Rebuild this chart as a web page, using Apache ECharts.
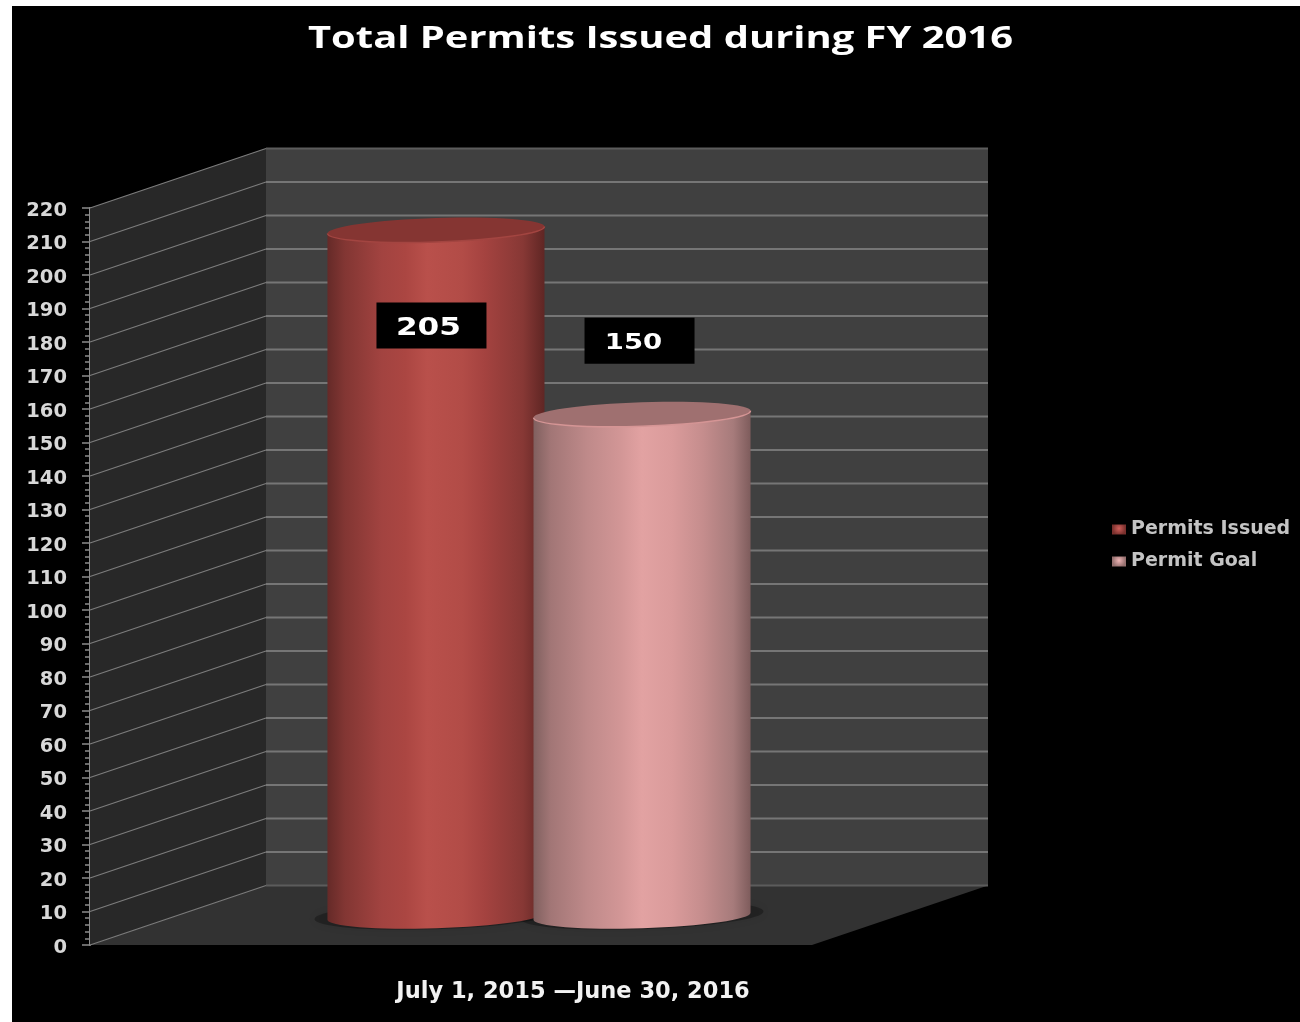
<!DOCTYPE html>
<html>
<head>
<meta charset="utf-8">
<title>Total Permits Issued during FY 2016</title>
<script src="https://cdn.jsdelivr.net/npm/echarts@6/dist/echarts.min.js"></script>
<style>
  html, body { margin: 0; padding: 0; background: #fff; }
  #chart { width: 1300px; height: 1022px; }
</style>
</head>
<body>
<div id="chart"></div>
<script>
// Chart values
var chartTitle = 'Total Permits Issued during FY 2016';
var categories = ['July 1, 2015 \u2014June 30, 2016'];
var seriesNames = ['Permits Issued', 'Permit Goal'];
var permitsIssued = [205];
var permitGoal = [150];
var gridTicks = [0, 10, 20, 30, 40, 50, 60, 70, 80, 90, 100, 110, 120, 130, 140, 150, 160, 170, 180, 190, 200, 210, 220];

// Oblique depth of the plot box, in pixels
var DEPTH_X = 176, DEPTH_Y = -59.5;
var TILT = -1.85;
var FONT = '"DejaVu Sans", sans-serif';

function bodyGradient(stops) {
  return {
    type: 'linear', x: 0, y: 0, x2: 1, y2: 0,
    colorStops: stops.map(function (s) { return { offset: s[0], color: s[1] }; })
  };
}
function swatch(light, dark) {
  return {
    type: 'radial', x: 0.5, y: 0.4, r: 0.65,
    colorStops: [{ offset: 0, color: light }, { offset: 1, color: dark }]
  };
}
var redStops = [[0, '#652a28'], [0.08, '#823633'], [0.25, '#a24340'], [0.36, '#ab4642'], [0.46, '#b9504b'], [0.62, '#b24c47'], [0.72, '#a54340'], [0.9, '#873835'], [1, '#5f2624']];
var pinkStops = [[0, '#80605f'], [0.08, '#a27676'], [0.25, '#bf8a8a'], [0.4, '#d29696'], [0.5, '#e2a2a2'], [0.64, '#da9b9b'], [0.78, '#c58d8d'], [0.92, '#a67b7b'], [1, '#7e5c5c']];

function ellipseEnds(cx, cy, rx) {
  var dy = Math.tan(-TILT * Math.PI / 180) * rx;
  return { lx: cx - rx, ly: cy + dy, rx: cx + rx, ry: cy - dy };
}
function arcTo(rx, ry, x, y) {
  return 'A ' + rx + ' ' + ry + ' ' + TILT + ' 0 0 ' + x + ' ' + y + ' ';
}
function ellipsePath(cx, cy, rx, ry) {
  var e = ellipseEnds(cx, cy, rx);
  return 'M ' + e.lx + ' ' + e.ly + ' ' + arcTo(rx, ry, e.rx, e.ry) + arcTo(rx, ry, e.lx, e.ly) + 'Z';
}

// Centre and radii of a cylinder standing half-way into the plot box depth
function cylinderGeometry(api, side, value) {
  var band = api.size([1, 0])[0];
  var top = api.coord([0, value]);
  var base = api.coord([0, 0]);
  return {
    cx: top[0] + DEPTH_X / 2 + side * band * 0.1427,
    topY: top[1] + DEPTH_Y / 2 + 1.5,
    baseY: base[1] + DEPTH_Y / 2 + 1,
    rx: band * 0.1503,
    ry: 12
  };
}

// Back wall, side wall, floor, gridlines and the floor shadows under the cylinders
function renderBox(params, api) {
  var g = params.coordSys;
  var left = g.x, right = g.x + g.width;
  var y0 = api.coord([0, 0])[1], yMax = api.coord([0, 220])[1];
  var children = [
    { type: 'polygon', shape: { points: [[left + DEPTH_X, yMax + DEPTH_Y], [right + DEPTH_X, yMax + DEPTH_Y], [right + DEPTH_X, y0 + DEPTH_Y], [left + DEPTH_X, y0 + DEPTH_Y]] }, style: { fill: '#404040' } },
    { type: 'polygon', shape: { points: [[left, yMax], [left + DEPTH_X, yMax + DEPTH_Y], [left + DEPTH_X, y0 + DEPTH_Y], [left, y0]] }, style: { fill: '#282828' } },
    { type: 'polygon', shape: { points: [[left, y0], [right, y0], [right + DEPTH_X, y0 + DEPTH_Y], [left + DEPTH_X, y0 + DEPTH_Y]] }, style: { fill: '#323232' } }
  ];
  gridTicks.forEach(function (v) {
    var y = api.coord([0, v])[1];
    var edge = v === 0 || v === 220;
    children.push({ type: 'line', shape: { x1: left, y1: y, x2: left + DEPTH_X, y2: y + DEPTH_Y }, style: { stroke: '#7c7c7c', lineWidth: 1.3, fill: null } });
    children.push({ type: 'line', shape: { x1: left + DEPTH_X, y1: y + DEPTH_Y, x2: right + DEPTH_X, y2: y + DEPTH_Y }, style: { stroke: edge ? '#5c5c5c' : '#767676', lineWidth: 2, fill: null } });
  });
  [-1, 1].forEach(function (side) {
    var c = cylinderGeometry(api, side, 0);
    children.push({
      type: 'path',
      shape: { pathData: ellipsePath(c.cx, c.baseY - 1, c.rx + 13, c.ry + 2) },
      style: { fill: 'rgba(0,0,0,0.28)', shadowBlur: 9, shadowColor: 'rgba(0,0,0,0.3)' }
    });
  });
  return { type: 'group', children: children };
}

// One cylinder with its cap, plus the boxed value label placed next to it
function cylinderRenderer(side, stops, capFill, capRim, label) {
  return function (params, api) {
    var v = api.value(1);
    var c = cylinderGeometry(api, side, v);
    var t = ellipseEnds(c.cx, c.topY, c.rx), b = ellipseEnds(c.cx, c.baseY, c.rx);
    var bodyPath = 'M ' + t.lx + ' ' + t.ly + ' L ' + b.lx + ' ' + b.ly + ' ' + arcTo(c.rx, c.ry, b.rx, b.ry) + 'L ' + t.rx + ' ' + t.ry + ' Z';
    var rimPath = 'M ' + t.lx + ' ' + t.ly + ' ' + arcTo(c.rx, c.ry, t.rx, t.ry);
    var boxX = c.cx + label.dx, boxY = c.topY + label.dy;
    return {
      type: 'group',
      children: [
        { type: 'path', shape: { pathData: bodyPath }, style: { fill: bodyGradient(stops) } },
        { type: 'path', shape: { pathData: ellipsePath(c.cx, c.topY, c.rx, c.ry) }, style: { fill: capFill } },
        { type: 'path', shape: { pathData: rimPath }, style: { fill: null, stroke: capRim, lineWidth: 1.5 } },
        { type: 'rect', shape: { x: boxX, y: boxY, width: 110, height: 46 }, style: { fill: '#000' } },
        { type: 'text', x: boxX + 55 + label.textDx, y: boxY + 26, scaleX: label.scaleX, style: { text: String(v), fill: '#fff', font: 'bold ' + label.size + 'px ' + FONT, align: 'center', verticalAlign: 'middle' } }
      ]
    };
  };
}

var chart = echarts.init(document.getElementById('chart'), null, { renderer: 'canvas' });
chart.setOption({
  backgroundColor: '#fff',
  animation: false,
  graphic: [
    { type: 'rect', z: -10, shape: { x: 12, y: 6, width: 1288, height: 1016 }, style: { fill: '#000' } },
    { type: 'text', z: 10, x: 660.5, y: 39.5, scaleX: 1.33, style: { text: chartTitle, fill: '#fff', font: 'bold 30px "Open Sans", sans-serif', align: 'center', verticalAlign: 'middle' } }
  ],
  legend: {
    orient: 'vertical', left: 1112, top: 520, itemWidth: 14, itemHeight: 10, itemGap: 13, padding: 0,
    selectedMode: false, icon: 'rect',
    data: seriesNames,
    textStyle: { color: '#c4c4c4', fontFamily: FONT, fontWeight: 'bold', fontSize: 19 }
  },
  grid: { left: 90, top: 208, width: 722, height: 737 },
  xAxis: {
    type: 'category', data: categories,
    axisLine: { show: false }, axisTick: { show: false },
    axisLabel: { color: '#f2f2f2', fontFamily: FONT, fontWeight: 'bold', fontSize: 22.5, margin: 36, padding: [0, 0, 0, 244] }
  },
  yAxis: {
    type: 'value', min: 0, max: 220, interval: 10,
    axisLine: { show: true, lineStyle: { color: '#8c8c8c', width: 2 } },
    axisTick: { show: true, length: 8, lineStyle: { color: '#8c8c8c', width: 1.5 } },
    minorTick: { show: true, length: 5, splitNumber: 5, lineStyle: { color: '#8c8c8c', width: 1.5 } },
    splitLine: { show: false },
    axisLabel: { color: '#d8d8d8', fontFamily: FONT, fontWeight: 'bold', fontSize: 19.5, margin: 23, verticalAlign: 'top', lineHeight: 5 }
  },
  series: [
    {
      name: 'box', type: 'custom', z: 1, silent: true,
      data: [[0, 0]], encode: { x: 0, y: 1 },
      renderItem: renderBox
    },
    {
      name: seriesNames[0], type: 'custom', z: 2,
      itemStyle: { color: swatch('#cf5f5a', '#7a302d') },
      data: permitsIssued.map(function (v, i) { return [i, v]; }), encode: { x: 0, y: 1 },
      renderItem: cylinderRenderer(-1, redStops, '#853532', '#a34541',
        { dx: -59.5, dy: 72.5, textDx: -3, size: 24, scaleX: 1.3 })
    },
    {
      name: seriesNames[1], type: 'custom', z: 3,
      itemStyle: { color: swatch('#eeb4b4', '#96706f') },
      data: permitGoal.map(function (v, i) { return [i, v]; }), encode: { x: 0, y: 1 },
      renderItem: cylinderRenderer(1, pinkStops, '#9f7070', '#d59595',
        { dx: -57.5, dy: -96.5, textDx: -6, size: 22, scaleX: 1.25 })
    }
  ]
});
</script>
</body>
</html>
